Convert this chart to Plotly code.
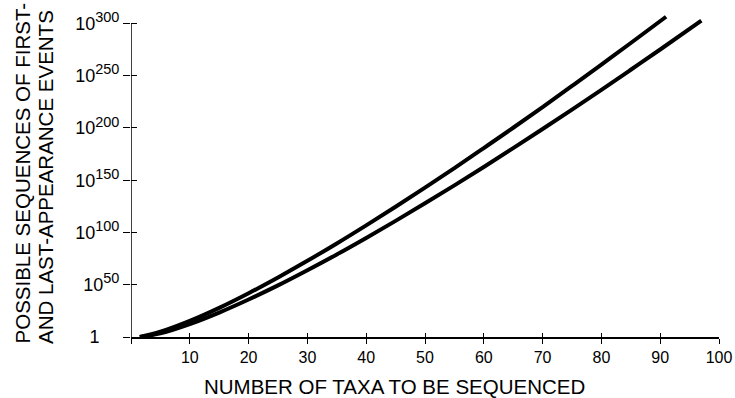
import plotly.graph_objects as go

# Number of taxa (x) and log10 of possible sequences (y exponent)
upper_n = [1.5, 5, 10, 15, 20, 25, 30, 35, 40, 45, 50, 55, 60, 65, 70, 75, 80, 85, 91]
upper_exp = [0, 5, 15.4, 27.9, 41.9, 57, 72.9, 89.5, 106.8, 124.6, 142.9, 161.6, 180.8,
             200.2, 220, 240.2, 260.6, 281.3, 306.4]
lower_n = [1.5, 5, 10, 15, 20, 25, 30, 35, 40, 45, 50, 55, 60, 65, 70, 75, 80, 85, 90, 97]
lower_exp = [0, 3.5, 12.4, 23.4, 35.9, 49.4, 63.9, 79, 94.8, 111.1, 127.9, 145.1, 162.7,
             180.7, 199, 217.6, 236.5, 255.7, 275.1, 302.7]

x_ticks = [0, 10, 20, 30, 40, 50, 60, 70, 80, 90, 100]
x_ticktext = ["", "10", "20", "30", "40", "50", "60", "70", "80", "90", "100"]
y_ticks = [0, 50, 100, 150, 200, 250, 300]
y_ticktext = ["1&nbsp;&nbsp;&nbsp;&nbsp;"] + [
    "10<sup><span style='font-size:115%'>" + str(v) + "</span></sup>" for v in y_ticks[1:]]

x_title = "NUMBER OF TAXA TO BE SEQUENCED"
y_title_1 = "POSSIBLE SEQUENCES OF FIRST-"
y_title_2 = "AND LAST-APPEARANCE EVENTS"

FONT = "Liberation Sans, Arial, sans-serif"
TITLE_FONT = dict(family=FONT, size=20.5, color="black")

W, H = 735, 398
L, R = 131, 16
B_PX = 337           # pixel row of y=0
TOP300_PX = 23       # pixel row of y=300
per_unit = (B_PX - TOP300_PX) / 300.0
y_max = 310
T = B_PX - y_max * per_unit
plot_h = B_PX - T
plot_w = W - L - R

def py(p):
    return (B_PX - p) / plot_h

def px(p):
    return (p - L) / plot_w

fig = go.Figure()
fig.add_trace(go.Scatter(x=upper_n, y=upper_exp, mode="lines",
                         line=dict(color="black", width=4, shape="spline"),
                         showlegend=False, hoverinfo="skip"))
fig.add_trace(go.Scatter(x=lower_n, y=lower_exp, mode="lines",
                         line=dict(color="black", width=4, shape="spline"),
                         showlegend=False, hoverinfo="skip"))
fig.add_trace(go.Scatter(x=[None], y=[None], xaxis="x2", yaxis="y2",
                         showlegend=False, hoverinfo="skip"))

fig.update_layout(
    template="none",
    width=W, height=H,
    margin=dict(l=L, r=R, t=T, b=H - B_PX, autoexpand=False),
    paper_bgcolor="white", plot_bgcolor="white",
    xaxis=dict(range=[0, 100], tickvals=x_ticks, ticktext=x_ticktext, automargin=False,
               showline=True, linecolor="black", linewidth=1.5,
               ticks="outside", ticklen=5, tickwidth=1, tickcolor="black",
               showgrid=False, zeroline=False,
               tickfont=dict(family=FONT, size=16, color="black")),
    yaxis=dict(range=[0, y_max], tickvals=y_ticks, ticktext=y_ticktext, automargin=False,
               showline=False, ticks="outside", ticklen=7, tickwidth=1, tickcolor="black",
               showgrid=False, zeroline=False,
               tickfont=dict(family=FONT, size=18, color="black")),
    xaxis2=dict(range=[0, 100], overlaying="x", anchor="y2", tickvals=x_ticks, automargin=False,
                ticks="inside", ticklen=4, tickwidth=1, tickcolor="black",
                showticklabels=False, showline=False, showgrid=False, zeroline=False),
    yaxis2=dict(range=[0, y_max], overlaying="y", anchor="x2", tickvals=y_ticks, automargin=False,
                ticks="inside", ticklen=6, tickwidth=1, tickcolor="black",
                showticklabels=False, showline=False, showgrid=False, zeroline=False),
    shapes=[dict(type="line", xref="x", yref="y", x0=0, x1=0, y0=0, y1=300,
                 line=dict(color="black", width=1.5))],
    annotations=[
        dict(text=x_title, xref="paper", yref="paper", x=px(394), y=py(386.5),
             xanchor="center", yanchor="middle", showarrow=False, font=TITLE_FONT),
        dict(text=y_title_1, xref="paper", yref="paper", x=px(22), y=py(346),
             xanchor="center", yanchor="bottom", textangle=-90, showarrow=False,
             font=TITLE_FONT),
        dict(text=y_title_2, xref="paper", yref="paper", x=px(46), y=py(346),
             xanchor="center", yanchor="bottom", textangle=-90, showarrow=False,
             font=TITLE_FONT),
    ],
)

fig.write_html("out.html", config={"displayModeBar": False},
               post_script="document.body.style.margin='0';")
